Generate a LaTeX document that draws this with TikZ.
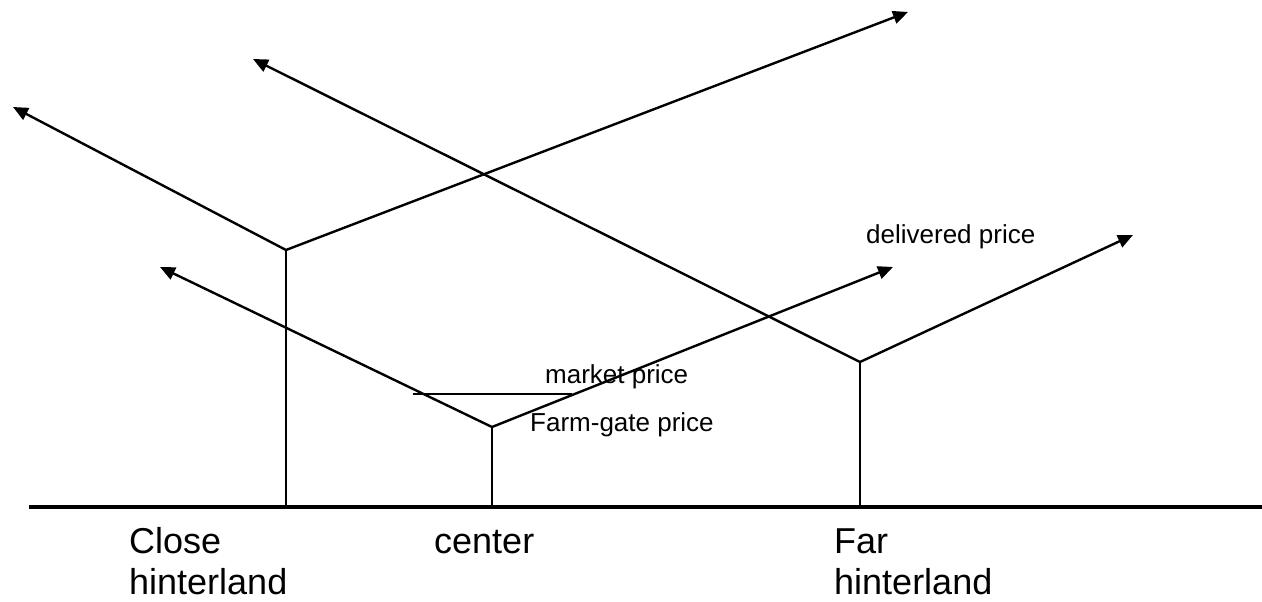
\documentclass[tikz,border=0pt]{standalone}
\usepackage{fontspec}
\setmainfont{Liberation Sans}
\usetikzlibrary{arrows.meta}
\tikzset{
  arr/.style={-{Triangle[length=15pt,width=13pt]}},
  smalllbl/.style={font=\fontsize{26}{30}\selectfont,inner sep=0,anchor=base west},
  biglbl/.style={font=\fontsize{36}{41}\selectfont,inner sep=0,anchor=base west,align=left}
}
\begin{document}
\begin{tikzpicture}[x=1pt,y=-1pt,line width=2.4pt]
  \useasboundingbox (0,0) rectangle (1262,602);
  % axis
  \coordinate (axl) at (29,507); \coordinate (axr) at (1262,507);
  \draw[line width=4pt] (axl) -- (axr);
  % close hinterland
  \coordinate (cb) at (286,507); \coordinate (ct) at (286,250);
  \coordinate (cl) at (13,107); \coordinate (cr) at (908,12);
  \draw (cb) -- (ct); \draw[arr] (ct) -- (cl); \draw[arr] (ct) -- (cr);
  % center
  \coordinate (mb) at (492,507); \coordinate (mt) at (492,427);
  \coordinate (ml) at (160,267); \coordinate (mr) at (893,267);
  \draw (mb) -- (mt); \draw[arr] (mt) -- (ml); \draw[arr] (mt) -- (mr);
  % far hinterland
  \coordinate (fb) at (860,507); \coordinate (ft) at (860,362);
  \coordinate (fl) at (253,59); \coordinate (fr) at (1133,235);
  \draw (fb) -- (ft); \draw[arr] (ft) -- (fl); \draw[arr] (ft) -- (fr);
  % market price level
  \coordinate (pl) at (413,394); \coordinate (pr) at (572,394);
  \draw (pl) -- (pr);
  \node[smalllbl] (mkt) at (544,383) {market price};
  \node[smalllbl] (fgp) at (529,431) {Farm-gate price};
  \node[smalllbl] (dlv) at (865,243) {delivered price};
  % base of a two-line label is its last line
  \node[biglbl] (close) at (128,594) {Close\\hinterland};
  \node[biglbl] (cent) at (433,553) {center};
  \node[biglbl] (far) at (833,594) {Far\\hinterland};
\end{tikzpicture}
\end{document}
